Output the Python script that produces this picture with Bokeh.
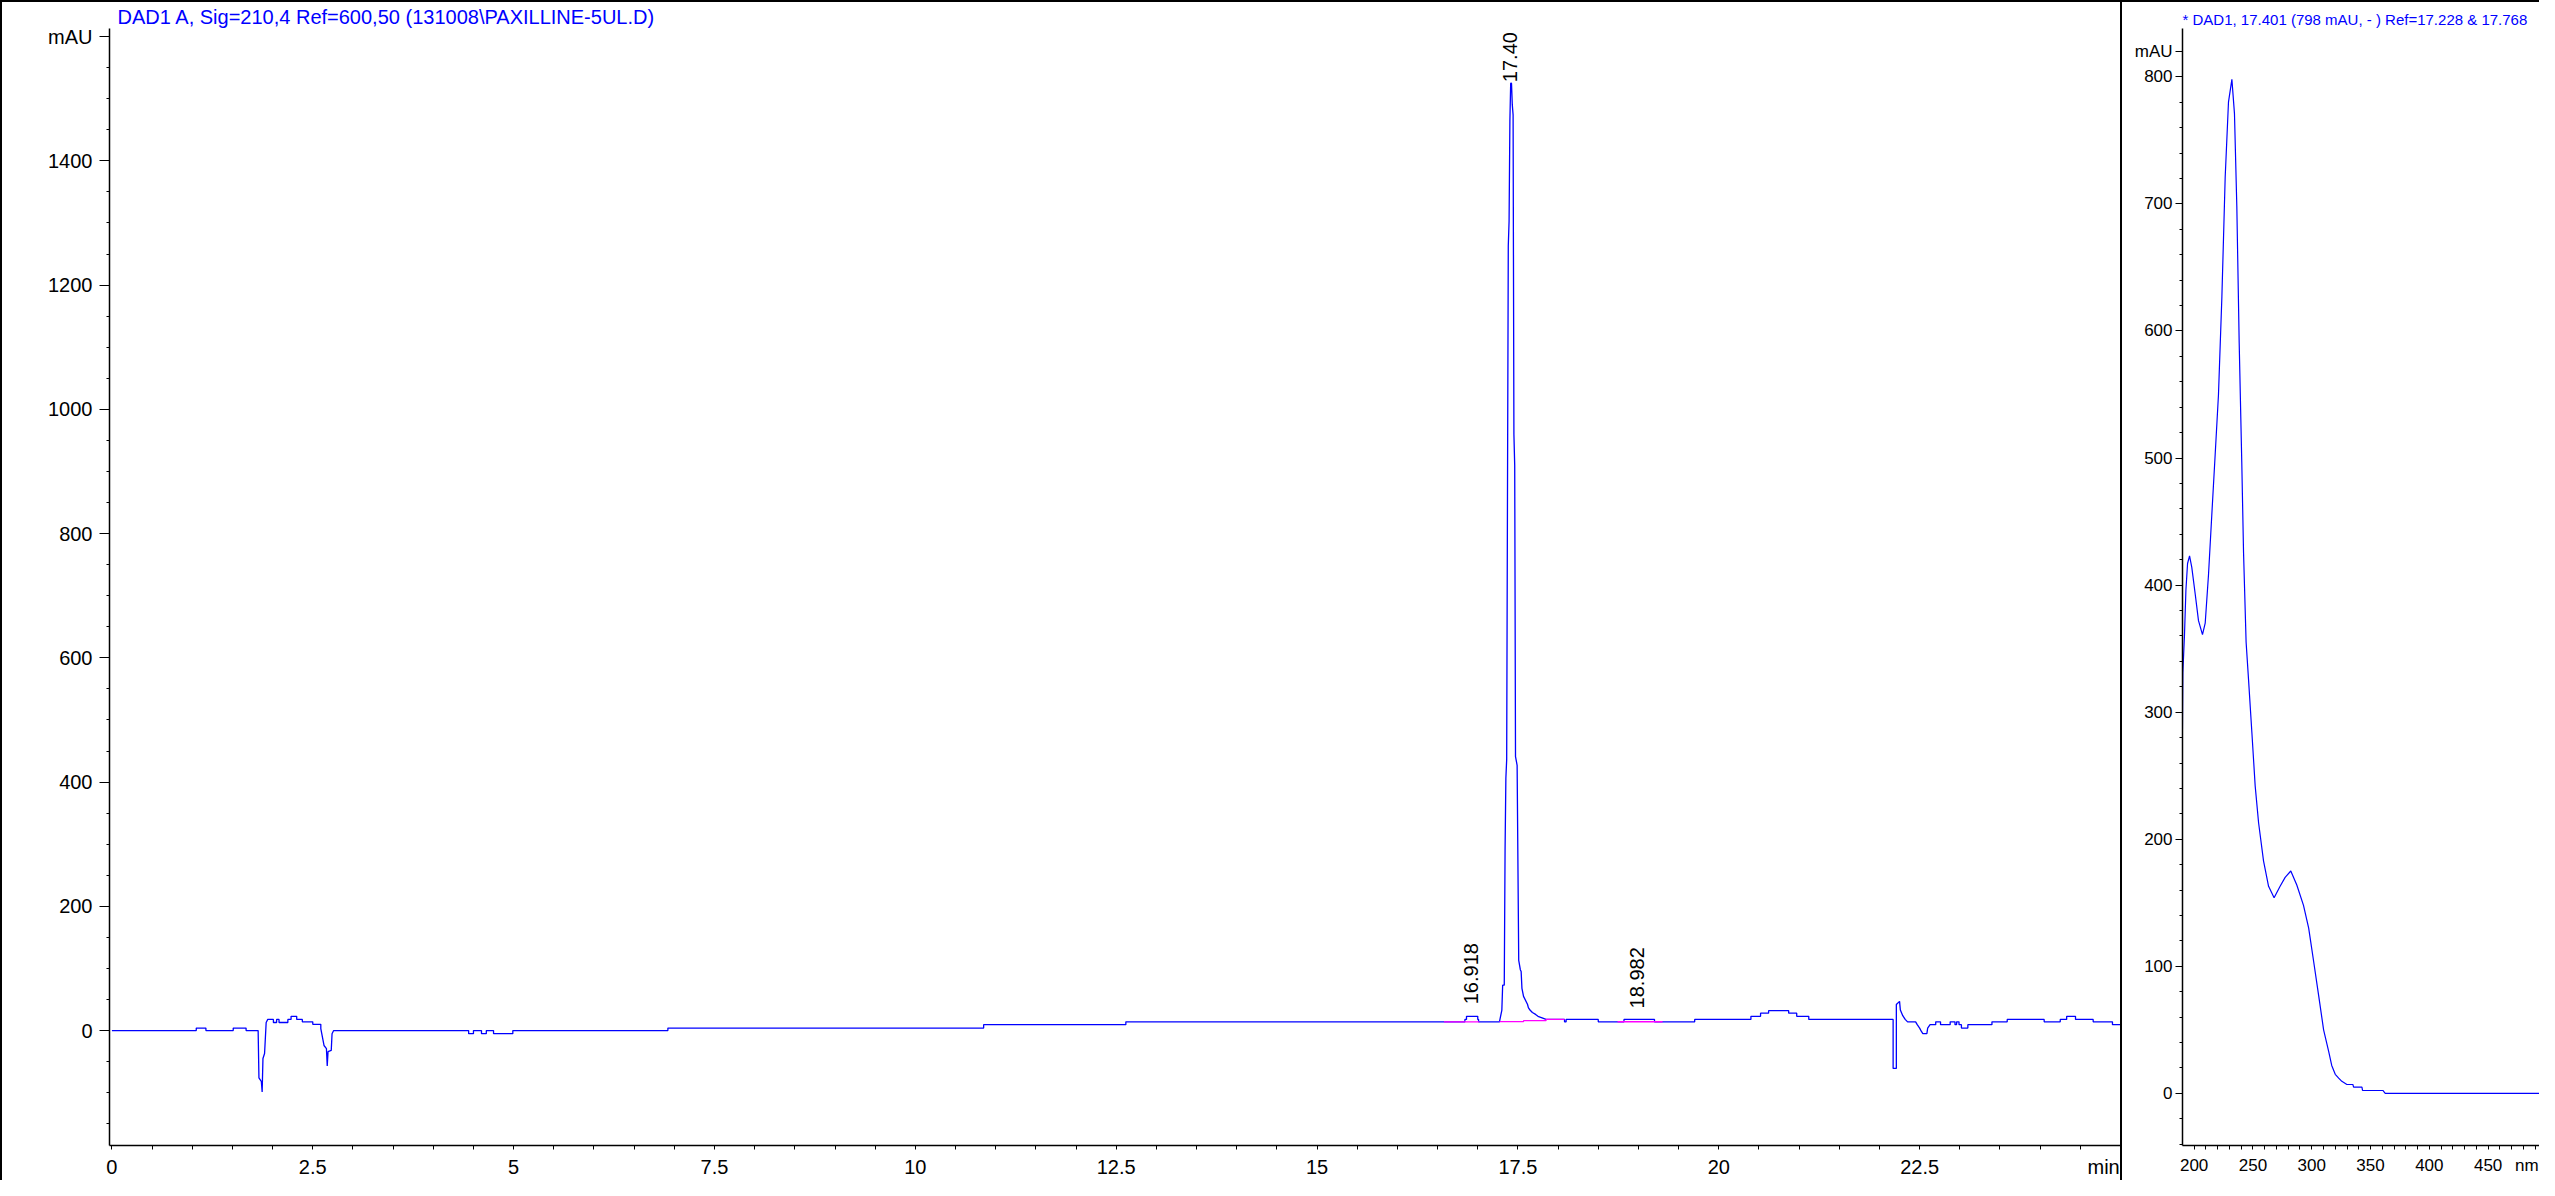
import math
from bokeh.plotting import figure
from bokeh.models import Range1d, FixedTicker, Label, Div, Title
from bokeh.layouts import row, column
from bokeh.embed import file_html
from bokeh.resources import INLINE

# ---------------- data ----------------
main_title = "DAD1 A, Sig=210,4 Ref=600,50 (131008\\PAXILLINE-5UL.D)"
spec_title = "* DAD1, 17.401 (798 mAU, -  ) Ref=17.228 & 17.768"

time_min = [0.0, 1.05, 1.05, 1.17, 1.17, 1.51, 1.51, 1.67, 1.67, 1.82, 1.83, 1.86, 1.87, 1.88, 1.90,
            1.92, 1.94, 2.01, 2.01, 2.05, 2.05, 2.08, 2.08, 2.19, 2.19, 2.23, 2.23, 2.30, 2.30, 2.37,
            2.37, 2.50, 2.50, 2.60, 2.60, 2.64, 2.67, 2.68, 2.69, 2.73, 2.74, 2.76, 4.44, 4.44, 4.50,
            4.50, 4.60, 4.60, 4.66, 4.66, 4.75, 4.75, 4.99, 4.99, 6.92, 6.92, 10.85, 10.85, 12.62, 12.62,
            16.84, 16.84, 16.86, 16.86, 17.00, 17.00, 17.01, 17.01, 17.27, 17.30, 17.31, 17.33, 17.34,
            17.35, 17.36, 17.37, 17.38, 17.39, 17.40, 17.41, 17.42, 17.43, 17.44, 17.45, 17.46, 17.47,
            17.49, 17.51, 17.53, 17.54, 17.55, 17.57, 17.62, 17.63, 17.65, 17.68, 17.72, 17.75, 17.85,
            18.08, 18.08, 18.10, 18.10, 18.50, 18.50, 18.82, 18.82, 19.20, 19.20, 19.70, 19.70, 20.40,
            20.40, 20.52, 20.52, 20.62, 20.62, 20.87, 20.87, 20.97, 20.97, 21.12, 21.12, 22.17, 22.17,
            22.21, 22.21, 22.25, 22.26, 22.29, 22.32, 22.35, 22.45, 22.47, 22.50, 22.52, 22.54, 22.59,
            22.60, 22.63, 22.70, 22.70, 22.76, 22.76, 22.88, 22.88, 22.94, 22.94, 22.96, 22.96, 22.99,
            22.99, 23.02, 23.02, 23.10, 23.10, 23.40, 23.40, 23.59, 23.59, 24.05, 24.05, 24.25, 24.25,
            24.33, 24.33, 24.44, 24.44, 24.66, 24.66, 24.90, 24.90, 25.0]
signal_mau = [0, 0, 4, 4, 0, 0, 4, 4, 0, 0, -76, -82, -99, -45, -37,
              13, 18, 18, 13, 13, 18, 18, 13, 13, 18, 18, 23, 23, 18, 18,
              14, 14, 10, 10, 3, -24, -29, -57, -34, -32, -5, 0, 0, -5, -5,
              0, 0, -5, -5, 0, 0, -5, -5, 0, 0, 4, 4, 9.5, 9.5, 14,
              14, 18, 18, 23, 23, 18, 18, 14, 14, 33, 73, 73, 290,
              406, 436, 860, 1263, 1303, 1464, 1525, 1525, 1490, 1474, 960, 910, 441,
              427, 113, 98, 95, 68, 55, 42, 37, 33, 29, 26, 23, 18,
              18, 14, 14, 18, 18, 14, 14, 18, 18, 14, 14, 18, 18,
              23, 23, 28, 28, 32, 32, 28, 28, 23, 23, 18, 18, -61,
              -61, 42, 47, 33, 24, 18, 14, 14, 9.5, 4, -1, -5, -5,
              4, 9.5, 9.5, 14, 14, 9.5, 9.5, 14, 14, 9.5, 9.5, 14, 14,
              9.5, 9.5, 4, 4, 9.5, 9.5, 14, 14, 18, 18, 14, 14, 18,
              18, 23, 23, 18, 18, 14, 14, 9.5, 9.5]

# integration baselines (magenta)
baseline_time = [[16.58, 17.02], [17.27, 17.57, 17.57, 17.85, 17.85, 18.08], [18.74, 19.30]]
baseline_mau = [[14, 14], [14.5, 14.5, 16, 16, 18, 18], [14.2, 14.2]]

peak_rt = [16.918, 17.40, 18.982]
peak_label = ["16.918", "17.40", "18.982"]
peak_height = [23, 1525, 18]

x_tick_values = [0, 2.5, 5, 7.5, 10, 12.5, 15, 17.5, 20, 22.5, 24.79]
x_tick_labels = ["0", "2.5", "5", "7.5", "10", "12.5", "15", "17.5", "20", "22.5", "min"]
y_tick_values = [0, 200, 400, 600, 800, 1000, 1200, 1400, 1600]
y_tick_labels = ["0", "200", "400", "600", "800", "1000", "1200", "1400", "mAU"]

wavelength_nm = [190, 190.4, 191.8, 193, 194.4, 196.1, 198, 200.9, 203.7, 207.1, 209.4, 212.2, 215,
                 217.9, 220.7, 223.6, 226.4, 229.2, 232.1, 234.3, 236.3, 238.3, 240.5, 242, 244.2,
                 246.3, 249.1, 251.9, 254.8, 259, 263.3, 268, 273.1, 277.4, 282.2, 287.3, 293, 297.4,
                 301.6, 305.9, 310.1, 314.4, 317, 320, 322.9, 325.6, 329.9, 335, 335.6, 342.7, 343.2,
                 360.5, 362.5, 500]
absorbance_mau = [281, 331, 361, 396, 417, 423, 414, 393, 372, 361, 370, 408, 455,
                  503, 550, 627, 721, 780, 798, 771, 698, 591, 497, 426, 355,
                  325, 284, 242, 213, 183, 163, 154, 163, 170, 175, 164, 148, 130,
                  104, 77, 50, 33, 22, 15, 12, 9.5, 7, 7, 5, 5, 2.3,
                  2.3, 0, 0]
spec_x_ticks = [200, 250, 300, 350, 400, 450, 483]
spec_x_labels = ["200", "250", "300", "350", "400", "450", "nm"]
spec_y_ticks = [0, 100, 200, 300, 400, 500, 600, 700, 800, 820]
spec_y_labels = ["0", "100", "200", "300", "400", "500", "600", "700", "800", "mAU"]

# ---------------- geometry / styling ----------------
FONT = "Liberation Sans"
BLUE = "#0000ff"
MAGENTA = "#ff00ff"
H = 1178      # figure height
TOP = 25      # title band above the frames
BOTTOM = 31   # band below the frames for tick labels


def style_axes(p, tick_font):
    p.xgrid.visible = False
    p.ygrid.visible = False
    p.outline_line_color = None
    p.background_fill_color = "white"
    p.border_fill_color = "white"
    for ax in (p.xaxis[0], p.yaxis[0]):
        ax.axis_line_color = "black"
        ax.axis_line_width = 1.5
        ax.major_tick_line_color = "black"
        ax.minor_tick_line_color = "black"
        ax.major_tick_in = 0
        ax.minor_tick_in = 0
        ax.major_label_text_font = FONT
        ax.major_label_text_font_size = tick_font
        ax.major_label_text_color = "black"


# ---------------- chromatogram ----------------
p1 = figure(width=2118, height=H, output_backend="svg", toolbar_location=None,
            x_range=Range1d(-0.03, 25.0), y_range=Range1d(-185, 1613),
            min_border_left=107, min_border_right=0, min_border_top=TOP, min_border_bottom=BOTTOM)
p1.add_layout(Title(text=main_title, align="left", offset=8, standoff=2,
                    text_font=FONT, text_font_size="20px", text_font_style="normal",
                    text_color=BLUE), "above")
style_axes(p1, "20px")
p1.xaxis.ticker = FixedTicker(ticks=x_tick_values,
                              minor_ticks=[i * 0.5 for i in range(0, 51)])
p1.xaxis.major_label_overrides = dict(zip(x_tick_values, x_tick_labels))
p1.xaxis.major_tick_out = 0
p1.xaxis.minor_tick_out = 4
p1.xaxis.major_label_standoff = 6
p1.yaxis.ticker = FixedTicker(ticks=y_tick_values,
                              minor_ticks=[-150 + 50 * i for i in range(0, 36)])
p1.yaxis.major_label_overrides = dict(zip(y_tick_values, y_tick_labels))
p1.yaxis.major_tick_out = 10
p1.yaxis.minor_tick_out = 3
p1.yaxis.major_label_standoff = 7

p1.line(time_min, signal_mau, line_color=BLUE, line_width=1.3)
p1.multi_line(baseline_time, baseline_mau, line_color=MAGENTA, line_width=1.3)

label_offsets = [12, 1, 11]
for rt, txt, h, off in zip(peak_rt, peak_label, peak_height, label_offsets):
    p1.add_layout(Label(x=rt, y=h, y_offset=off, text=txt, angle=math.pi / 2,
                        text_align="left", text_baseline="middle",
                        text_font=FONT, text_font_size="20px", text_color="black"))

# ---------------- spectrum ----------------
p2 = figure(width=417, height=H, output_backend="svg", toolbar_location=None,
            x_range=Range1d(190.1, 493.7), y_range=Range1d(-41, 838),
            min_border_left=60, min_border_right=0, min_border_top=TOP, min_border_bottom=BOTTOM)
p2.add_layout(Title(text=spec_title, align="left", offset=0, standoff=2,
                    text_font=FONT, text_font_size="15px", text_font_style="normal",
                    text_color=BLUE), "above")
style_axes(p2, "17px")
p2.xaxis.ticker = FixedTicker(ticks=spec_x_ticks, minor_ticks=list(range(190, 500, 10)))
p2.xaxis.major_label_overrides = dict(zip(spec_x_ticks, spec_x_labels))
p2.xaxis.major_tick_out = 0
p2.xaxis.minor_tick_out = 4
p2.xaxis.major_label_standoff = 6
p2.yaxis.ticker = FixedTicker(ticks=spec_y_ticks, minor_ticks=list(range(-40, 840, 20)))
p2.yaxis.major_label_overrides = dict(zip(spec_y_ticks, spec_y_labels))
p2.yaxis.major_tick_out = 7
p2.yaxis.minor_tick_out = 3
p2.yaxis.major_label_standoff = 3

p2.line(wavelength_nm, absorbance_mau, line_color=BLUE, line_width=1.2)

# ---------------- frame lines & layout ----------------
top_line = Div(width=2539, height=2, margin=0, styles={"background-color": "black"})
left_line = Div(width=2, height=H, margin=0, styles={"background-color": "black"})
mid_line = Div(width=2, height=H, margin=0, styles={"background-color": "black"})

layout = column(top_line, row(left_line, p1, mid_line, p2, spacing=0), spacing=0)

open("out.html", "w").write(file_html(layout, INLINE))
